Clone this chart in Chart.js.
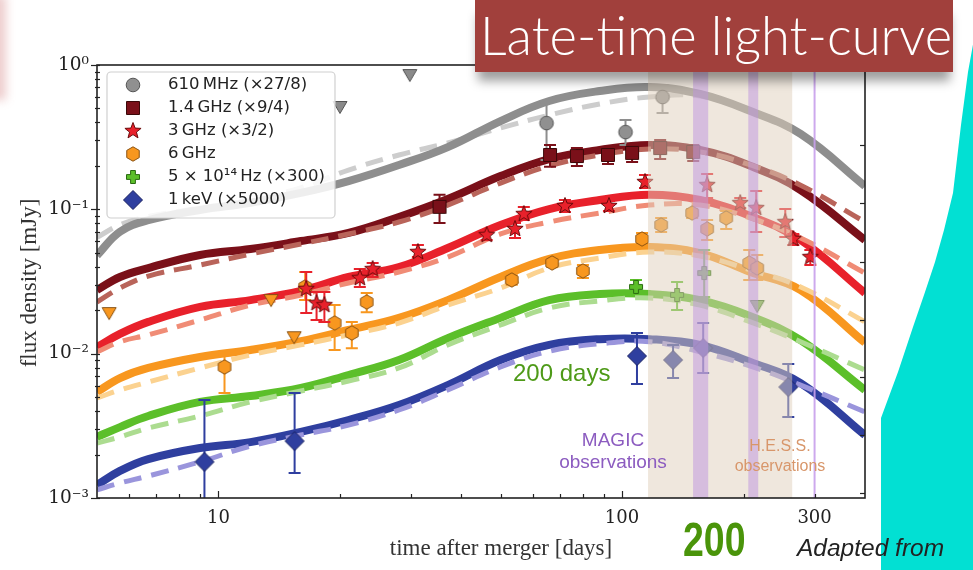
<!DOCTYPE html>
<html>
<head>
<meta charset="utf-8">
<script src="https://cdn.jsdelivr.net/npm/chart.js@4.4.0/dist/chart.umd.min.js"></script>
<style>
body{margin:0;background:#fff;}
#wrap{position:relative;width:973px;height:570px;overflow:hidden;background:#fff;}
#myGraph{position:absolute;left:0;top:0;}
.t{position:absolute;white-space:nowrap;font-family:"Liberation Sans",Arial,sans-serif;}
#pinkEdge{position:absolute;left:-12px;top:-5px;width:18px;height:105px;background:rgba(200,90,90,0.3);filter:blur(5px);}
#cyan{position:absolute;left:0;top:0;}
#titleBox{position:absolute;left:475px;top:0;width:478px;height:72px;background:#a1403c;box-shadow:0 12px 10px -3px rgba(0,0,0,0.38);color:#fff;font-family:Lato,"Open Sans",sans-serif;font-weight:300;font-size:52.5px;line-height:70px;padding-left:5px;box-sizing:border-box;white-space:nowrap;overflow:hidden;}
#days200{left:513px;top:360px;font-size:24px;line-height:26px;color:#4e9a18;}
#magic{left:513px;top:429px;width:200px;text-align:center;font-size:19px;line-height:22px;color:#8c5cc0;}
#hess{left:700px;top:436px;width:160px;text-align:center;font-size:16px;line-height:20px;color:#d8966a;}
#big200{left:683px;top:516px;font-size:48px;line-height:48px;font-weight:bold;color:#4a940a;transform:scaleX(0.78);transform-origin:left top;}
#adapted{left:797px;top:534px;font-size:24.5px;line-height:28px;font-style:italic;color:#222;}
</style>
</head>
<body>
<div id="wrap">
<canvas id="myGraph" width="973" height="570"></canvas>
<div id="pinkEdge"></div>
<svg id="cyan" width="973" height="570"><path d="M976 28 L968 72 L961 125 L953 193 L944 230 L935 262 L924 295 L913 327 L898 372 L881 418 L881 570 L973 570 Z" fill="#02e0d3"/></svg>
<div id="titleBox">Late-time light-curve</div>
<div class="t" id="days200">200 days</div>
<div class="t" id="magic">MAGIC<br>observations</div>
<div class="t" id="hess">H.E.S.S.<br>observations</div>
<div class="t" id="big200">200</div>
<div class="t" id="adapted">Adapted from</div>
</div>
<script>
// model curves, sampled in days
const modelDays = [5, 5.7, 6.7, 9, 12, 16, 21, 28, 37, 50, 66, 88, 117, 156, 208, 277, 400];

const mhz610Solid  = [0.048, 0.070, 0.084, 0.099, 0.111, 0.130, 0.157, 0.203, 0.270, 0.409, 0.563, 0.660, 0.704, 0.630, 0.480, 0.333, 0.145];
const mhz610Dashed = [0.064, 0.078, 0.089, 0.102, 0.116, 0.141, 0.187, 0.238, 0.288, 0.366, 0.450, 0.537, 0.600, 0.610, 0.480, 0.333, 0.145];
const ghz14Solid   = [0.0276, 0.0340, 0.0392, 0.0483, 0.0531, 0.0603, 0.0686, 0.0885, 0.118, 0.170, 0.223, 0.258, 0.279, 0.258, 0.200, 0.136, 0.0613];
const ghz14Dashed  = [0.0228, 0.0285, 0.0345, 0.0411, 0.0490, 0.0575, 0.0675, 0.0817, 0.107, 0.152, 0.200, 0.238, 0.262, 0.250, 0.203, 0.147, 0.0817];
const ghz3Solid    = [0.0111, 0.0137, 0.0166, 0.0211, 0.0235, 0.0272, 0.0340, 0.0398, 0.0540, 0.0779, 0.1005, 0.116, 0.126, 0.116, 0.0899, 0.0613, 0.0263];
const ghz3Dashed   = [0.0103, 0.0121, 0.0135, 0.0171, 0.0217, 0.0255, 0.0309, 0.0368, 0.0467, 0.0675, 0.0817, 0.0943, 0.107, 0.107, 0.0871, 0.0633, 0.0362];
const ghz6Solid    = [0.00543, 0.00678, 0.00796, 0.00948, 0.0106, 0.0122, 0.0146, 0.0177, 0.0235, 0.0340, 0.0453, 0.0523, 0.0548, 0.0498, 0.0368, 0.0276, 0.0119];
const ghz6Dashed   = [0.00493, 0.00560, 0.00636, 0.00796, 0.00979, 0.0115, 0.0135, 0.0163, 0.0217, 0.0285, 0.0392, 0.0460, 0.0506, 0.0475, 0.0380, 0.0290, 0.0166];
const opticalSolid = [0.00265, 0.00310, 0.00370, 0.00463, 0.00509, 0.00578, 0.00711, 0.00904, 0.0128, 0.0177, 0.0235, 0.0259, 0.0259, 0.0235, 0.0182, 0.0124, 0.0056];
const opticalDashed= [0.00240, 0.00265, 0.00305, 0.00370, 0.00463, 0.00551, 0.00646, 0.00796, 0.0115, 0.0158, 0.0207, 0.0232, 0.0243, 0.0217, 0.0166, 0.0121, 0.0077];
const xraySolid    = [0.00123, 0.00154, 0.00186, 0.00222, 0.00244, 0.00287, 0.00347, 0.00441, 0.00606, 0.00904, 0.0115, 0.0126, 0.0126, 0.0115, 0.00875, 0.00626, 0.00273];
const xrayDashed   = [0.00114, 0.00127, 0.00142, 0.00178, 0.00229, 0.00273, 0.00320, 0.00407, 0.00560, 0.00809, 0.0104, 0.0117, 0.0121, 0.0103, 0.00821, 0.00606, 0.00394];

// observations
const mhz610Days = [65, 102, 126];
const mhz610Flux = [0.396, 0.343, 0.600];
const mhz610Lo   = [0.220, 0.279, 0.465];
const mhz610Hi   = [0.545, 0.416, 0.727];
const mhz610LimDays = [20, 29.8];
const mhz610LimFlux = [0.512, 0.852];

const ghz14Days = [35.3, 66.3, 77.3, 92.3, 105.9, 124.3, 150.1];
const ghz14Flux = [0.104, 0.238, 0.234, 0.238, 0.246, 0.266, 0.250];
const ghz14Lo   = [0.0804, 0.197, 0.200, 0.206, 0.213, 0.223, 0.216];
const ghz14Hi   = [0.126, 0.279, 0.266, 0.262, 0.279, 0.302, 0.279];

const ghz3Days = [16.5, 17.5, 18.3, 22.4, 24.1, 31.2, 46.2, 54.3, 57.1, 72.2, 92.8, 114, 162.5, 196.3, 215, 253.8, 265.7, 292.8];
const ghz3Flux = [0.0281, 0.0224, 0.0217, 0.0334, 0.0386, 0.0506, 0.0664, 0.0731, 0.0928, 0.1055, 0.1055, 0.1547, 0.1474, 0.1106, 0.1021, 0.0817, 0.0623, 0.0467];
const ghz3Lo   = [0.0191, 0.0171, 0.0166, 0.0290, 0.0340, 0.0467, 0.0613, 0.0633, 0.0844, 0.0958, 0.0974, 0.1405, 0.1198, 0.1021, 0.0697, 0.0643, 0.0566, 0.0411];
const ghz3Hi   = [0.0368, 0.0267, 0.0267, 0.0386, 0.0425, 0.0566, 0.0719, 0.0804, 0.1038, 0.1160, 0.1142, 0.1729, 0.1757, 0.1198, 0.1339, 0.1005, 0.0675, 0.0523];

const ghz6Days = [10.35, 16.4, 19.4, 21.4, 23.3, 53.3, 67.1, 80.0, 112.1, 125, 149.2, 162.5, 181.2, 206.6, 216.3];
const ghz6Flux = [0.00809, 0.0290, 0.0163, 0.0139, 0.0228, 0.0324, 0.0425, 0.0374, 0.0623, 0.0779, 0.0943, 0.0731, 0.0871, 0.0425, 0.0392];
const ghz6Lo   = [0.00534, 0.0235, 0.0106, 0.0109, 0.0194, 0.0300, 0.0400, 0.0334, 0.0584, 0.0697, 0.0871, 0.0613, 0.0731, 0.0324, 0.0324];
const ghz6Hi   = [0.00979, 0.0368, 0.0217, 0.0166, 0.0263, 0.0350, 0.0450, 0.0411, 0.0686, 0.0871, 0.1005, 0.0844, 0.0974, 0.0523, 0.0483];
const ghz6LimDays = [5.36, 13.5, 15.4];
const ghz6LimFlux = [0.0191, 0.0235, 0.0130];

const opticalDays = [108.3, 136.9, 159.8];
const opticalFlux = [0.0290, 0.0255, 0.0362];
const opticalLo   = [0.0263, 0.0201, 0.0247];
const opticalHi   = [0.0324, 0.0314, 0.0523];
const opticalLimDays = [216.3];
const opticalLimFlux = [0.0214];

const xrayDays = [9.23, 15.44, 108.9, 133.8, 158.9, 258.2];
const xrayFlux = [0.00178, 0.00248, 0.00963, 0.00904, 0.01094, 0.00587];
const xrayLo   = [0.0009, 0.00149, 0.00616, 0.00678, 0.00735, 0.00364];
const xrayHi   = [0.00478, 0.00534, 0.0139, 0.0115, 0.01631, 0.00848];

// observing windows (days)
const hessWindow = [116, 264];
const magicWindows = [[150, 163.5], [205.5, 217.5]];
const markerDay = 300;

// axes
const xTickValues = [6, 7, 8, 9, 10, 20, 30, 40, 50, 60, 70, 80, 90, 100, 200, 300];
const xLabelValues = [10, 100, 300];
const yTickValues = [0.001,0.002,0.003,0.004,0.005,0.006,0.007,0.008,0.009,
  0.01,0.02,0.03,0.04,0.05,0.06,0.07,0.08,0.09,0.1,0.2,0.3,0.4,0.5,0.6,0.7,0.8,0.9,1];
const yMajorValues = [0.001, 0.01, 0.1, 1];
const yMajorLabels = ['10\u207B\u00B3', '10\u207B\u00B2', '10\u207B\u00B9', '10\u2070'];
const rightTickValues = [0.279, 0.1106, 0.0433, 0.0171, 0.00692, 0.00273, 0.00109];

const legendLabels = ['610\u2009MHz (\u00D727/8)', '1.4\u2009GHz (\u00D79/4)', '3\u2009GHz (\u00D73/2)',
  '6\u2009GHz', '5 \u00D7 10\u00B9\u2074\u2009Hz (\u00D7300)', '1\u2009keV (\u00D75000)'];

const colors = {
  gray:   ['#8e8e8e', '#cdcdcd', '#5c5c5c'],
  brown:  ['#7a1019', '#b9645a', '#3a0808'],
  red:    ['#e8212b', '#f08c76', '#6a0a0a'],
  orange: ['#f8971f', '#fbd290', '#8a5212'],
  green:  ['#5cbf2a', '#acdc90', '#2a6a12'],
  blue:   ['#2f3f9f', '#9a95dc', '#182060']
};

function makeSprite(shape, fill, edge){
  let c = document.createElement('canvas');
  let s = 24;
  c.width = s; c.height = s;
  let g = c.getContext('2d');
  g.translate(s/2, s/2);
  g.beginPath();
  if (shape === 'circle') g.arc(0, 0, 6.8, 0, Math.PI*2);
  else if (shape === 'square') g.rect(-6.5, -6.5, 13, 13);
  else if (shape === 'diamond') { g.moveTo(0,-9.5); g.lineTo(9.5,0); g.lineTo(0,9.5); g.lineTo(-9.5,0); g.closePath(); }
  else if (shape === 'star') {
    for (let k = 0; k < 10; k++) {
      let r = k % 2 ? 3.6 : 8.5;
      let ang = -Math.PI/2 + k*Math.PI/5;
      g.lineTo(r*Math.cos(ang), r*Math.sin(ang));
    }
    g.closePath();
  }
  else if (shape === 'hexagon') {
    for (let k = 0; k < 6; k++) {
      let ang = -Math.PI/2 + k*Math.PI/3;
      g.lineTo(7.2*Math.cos(ang), 7.2*Math.sin(ang));
    }
    g.closePath();
  }
  else if (shape === 'plus') {
    let a = 6.5, b = 2.4;
    g.moveTo(-b,-a); g.lineTo(b,-a); g.lineTo(b,-b); g.lineTo(a,-b); g.lineTo(a,b); g.lineTo(b,b);
    g.lineTo(b,a); g.lineTo(-b,a); g.lineTo(-b,b); g.lineTo(-a,b); g.lineTo(-a,-b); g.lineTo(-b,-b); g.closePath();
  }
  else if (shape === 'tridown') { g.moveTo(-7,-5.5); g.lineTo(7,-5.5); g.lineTo(0,6.5); g.closePath(); }
  g.fillStyle = fill; g.fill();
  g.lineWidth = 1; g.strokeStyle = edge; g.stroke();
  return c;
}

const sprites = {
  gray: makeSprite('circle', '#909090', '#555'),
  grayLim: makeSprite('tridown', '#8a8a8a', '#555'),
  brown: makeSprite('square', colors.brown[0], colors.brown[2]),
  red: makeSprite('star', colors.red[0], colors.red[2]),
  orange: makeSprite('hexagon', colors.orange[0], colors.orange[2]),
  orangeLim: makeSprite('tridown', colors.orange[0], colors.orange[2]),
  green: makeSprite('plus', colors.green[0], colors.green[2]),
  greenLim: makeSprite('tridown', '#6fae4a', '#2a6a12'),
  blue: makeSprite('diamond', colors.blue[0], colors.blue[2])
};
const legendSprites = [sprites.gray, sprites.brown, sprites.red, sprites.orange, sprites.green, sprites.blue];

function pairs(xs, ys){
  return xs.map((v, i) => ({x: v, y: ys[i]}));
}

function curve(values, col, dashed, order){
  return {
    data: pairs(modelDays, values),
    borderColor: dashed ? col[1] : col[0],
    borderWidth: dashed ? 5 : 8,
    borderDash: dashed ? [18, 10] : [],
    borderCapStyle: 'butt',
    pointRadius: 0,
    tension: 0.4,
    fill: false,
    clip: 0,
    order: order
  };
}

function points(xs, ys, sprite, lo, hi, errColor, order){
  return {
    data: pairs(xs, ys),
    showLine: false,
    pointStyle: sprite,
    pointRadius: 7,
    errLo: lo,
    errHi: hi,
    errColor: errColor,
    clip: 0,
    order: order
  };
}

const errorBars = {
  id: 'errorBars',
  beforeDatasetDraw(chart, args){
    let ds = chart.data.datasets[args.index];
    if (!ds.errLo) return;
    let ctx = chart.ctx, a = chart.chartArea;
    let xs = chart.scales.x, ys = chart.scales.y;
    ctx.save();
    ctx.beginPath();
    ctx.rect(a.left, a.top, a.right - a.left, a.bottom - a.top);
    ctx.clip();
    ctx.strokeStyle = ds.errColor;
    ctx.lineWidth = 2;
    ds.data.forEach((p, i) => {
      let x = xs.getPixelForValue(p.x);
      let y1 = ys.getPixelForValue(ds.errLo[i]);
      let y2 = ys.getPixelForValue(ds.errHi[i]);
      ctx.beginPath();
      ctx.moveTo(x, y1); ctx.lineTo(x, y2);
      ctx.moveTo(x - 6, y1); ctx.lineTo(x + 6, y1);
      ctx.moveTo(x - 6, y2); ctx.lineTo(x + 6, y2);
      ctx.stroke();
    });
    ctx.restore();
  }
};

const bands = {
  id: 'bands',
  afterDatasetsDraw(chart){
    let ctx = chart.ctx, a = chart.chartArea, xs = chart.scales.x;
    ctx.save();
    let x1 = xs.getPixelForValue(hessWindow[0]), x2 = xs.getPixelForValue(hessWindow[1]);
    ctx.fillStyle = 'rgba(224,208,188,0.5)';
    ctx.fillRect(x1, a.top, x2 - x1, a.bottom - a.top);
    ctx.fillStyle = 'rgba(190,148,224,0.5)';
    magicWindows.forEach(w => {
      let p1 = xs.getPixelForValue(w[0]), p2 = xs.getPixelForValue(w[1]);
      ctx.fillRect(p1, a.top, p2 - p1, a.bottom - a.top);
    });
    let xm = xs.getPixelForValue(markerDay);
    ctx.strokeStyle = 'rgba(200,160,235,0.9)';
    ctx.lineWidth = 2;
    ctx.beginPath(); ctx.moveTo(xm, a.top); ctx.lineTo(xm, a.bottom); ctx.stroke();
    ctx.restore();
  }
};

const frameAndTicks = {
  id: 'frameAndTicks',
  afterDatasetsDraw(chart){
    let ctx = chart.ctx, a = chart.chartArea;
    let xs = chart.scales.x, ys = chart.scales.y;
    ctx.save();
    ctx.strokeStyle = '#222';
    ctx.lineWidth = 1.2;
    xTickValues.forEach(v => {
      let px = Math.round(xs.getPixelForValue(v)) + 0.5;
      let len = (v === 10 || v === 100) ? 7 : 4;
      ctx.beginPath(); ctx.moveTo(px, a.bottom); ctx.lineTo(px, a.bottom - len); ctx.stroke();
    });
    yTickValues.forEach(v => {
      let py = Math.round(ys.getPixelForValue(v)) + 0.5;
      let major = yMajorValues.includes(v);
      ctx.beginPath();
      ctx.moveTo(a.left - (major ? 6 : 2), py);
      ctx.lineTo(a.left + 3, py);
      ctx.stroke();
    });
    rightTickValues.forEach(v => {
      let py = Math.round(ys.getPixelForValue(v)) + 0.5;
      ctx.beginPath(); ctx.moveTo(a.right, py); ctx.lineTo(a.right - 5, py); ctx.stroke();
    });
    ctx.lineWidth = 1.6;
    ctx.strokeRect(a.left, a.top, a.right - a.left, a.bottom - a.top);
    ctx.restore();
  }
};

const legendAndTitles = {
  id: 'legendAndTitles',
  afterDraw(chart){
    let ctx = chart.ctx;
    ctx.save();
    // legend box
    let bx = 107, by = 72, bw = 228, bh = 146, r = 4;
    ctx.beginPath();
    ctx.moveTo(bx + r, by);
    ctx.arcTo(bx + bw, by, bx + bw, by + bh, r);
    ctx.arcTo(bx + bw, by + bh, bx, by + bh, r);
    ctx.arcTo(bx, by + bh, bx, by, r);
    ctx.arcTo(bx, by, bx + bw, by, r);
    ctx.closePath();
    ctx.fillStyle = 'rgba(255,255,255,0.85)';
    ctx.fill();
    ctx.strokeStyle = '#d0d0d0';
    ctx.lineWidth = 1.2;
    ctx.stroke();
    ctx.font = '16.5px "DejaVu Sans"';
    ctx.fillStyle = '#222';
    ctx.textBaseline = 'middle';
    legendLabels.forEach((txt, i) => {
      let yy = 85 + i * 23;
      let sp = legendSprites[i];
      ctx.drawImage(sp, 133 - sp.width/2, yy - sp.height/2);
      ctx.fillText(txt, 168, yy);
    });
    // axis titles
    ctx.font = '23px "Liberation Serif"';
    ctx.fillStyle = '#333';
    ctx.textAlign = 'center';
    ctx.fillText('time after merger [days]', 501, 549);
    ctx.translate(30, 283);
    ctx.rotate(-Math.PI/2);
    ctx.fillText('flux density [mJy]', 0, 0);
    ctx.restore();
  }
};

function makeChart(){
  let target = document.getElementById('myGraph');
  new Chart(target, {
    type: 'line',
    data: {
      datasets: [
        curve(mhz610Solid, colors.gray, false, 21), curve(mhz610Dashed, colors.gray, true, 22),
        curve(ghz14Solid, colors.brown, false, 21), curve(ghz14Dashed, colors.brown, true, 20),
        curve(ghz3Solid, colors.red, false, 21), curve(ghz3Dashed, colors.red, true, 20),
        curve(ghz6Solid, colors.orange, false, 21), curve(ghz6Dashed, colors.orange, true, 20),
        curve(opticalSolid, colors.green, false, 21), curve(opticalDashed, colors.green, true, 20),
        curve(xraySolid, colors.blue, false, 21), curve(xrayDashed, colors.blue, true, 20),
        points(mhz610Days, mhz610Flux, sprites.gray, mhz610Lo, mhz610Hi, '#8e8e8e', 6),
        points(mhz610LimDays, mhz610LimFlux, sprites.grayLim, null, null, null, 6),
        points(ghz14Days, ghz14Flux, sprites.brown, ghz14Lo, ghz14Hi, colors.brown[0], 5),
        points(ghz6Days, ghz6Flux, sprites.orange, ghz6Lo, ghz6Hi, colors.orange[0], 4),
        points(ghz6LimDays, ghz6LimFlux, sprites.orangeLim, null, null, null, 4),
        points(ghz3Days, ghz3Flux, sprites.red, ghz3Lo, ghz3Hi, colors.red[0], 3),
        points(opticalDays, opticalFlux, sprites.green, opticalLo, opticalHi, colors.green[0], 2),
        points(opticalLimDays, opticalLimFlux, sprites.greenLim, null, null, null, 2),
        points(xrayDays, xrayFlux, sprites.blue, xrayLo, xrayHi, colors.blue[0], 1)
      ]
    },
    options: {
      responsive: false,
      animation: false,
      layout: { padding: { top: 65, right: 108, left: 0, bottom: 0 } },
      plugins: { legend: { display: false }, tooltip: { enabled: false } },
      scales: {
        x: {
          type: 'logarithmic',
          min: 5,
          max: 400,
          grid: { display: false, drawTicks: false },
          border: { display: false },
          afterBuildTicks: function(scale){ scale.ticks = xTickValues.map(v => ({value: v})); },
          afterFit: function(scale){ scale.height = 72; },
          ticks: {
            autoSkip: false,
            maxRotation: 0,
            padding: 10,
            color: '#222',
            font: { family: 'DejaVu Serif', size: 18 },
            callback: function(v, i, ticks){
              let val = ticks[i].value;
              return xLabelValues.includes(val) ? String(val) : '';
            }
          }
        },
        y: {
          type: 'logarithmic',
          min: 0.001,
          max: 1,
          grid: { display: false, drawTicks: false },
          border: { display: false },
          afterBuildTicks: function(scale){ scale.ticks = yTickValues.map(v => ({value: v})); },
          afterFit: function(scale){ scale.width = 97; },
          ticks: {
            autoSkip: false,
            padding: 8,
            color: '#222',
            font: { family: 'DejaVu Serif', size: 18.5 },
            callback: function(v, i, ticks){
              let k = yMajorValues.indexOf(ticks[i].value);
              return k >= 0 ? yMajorLabels[k] : '';
            }
          }
        }
      }
    },
    plugins: [errorBars, bands, frameAndTicks, legendAndTitles]
  });
}

document.addEventListener("DOMContentLoaded", function(){
  makeChart();
});
</script>
</body>
</html>
